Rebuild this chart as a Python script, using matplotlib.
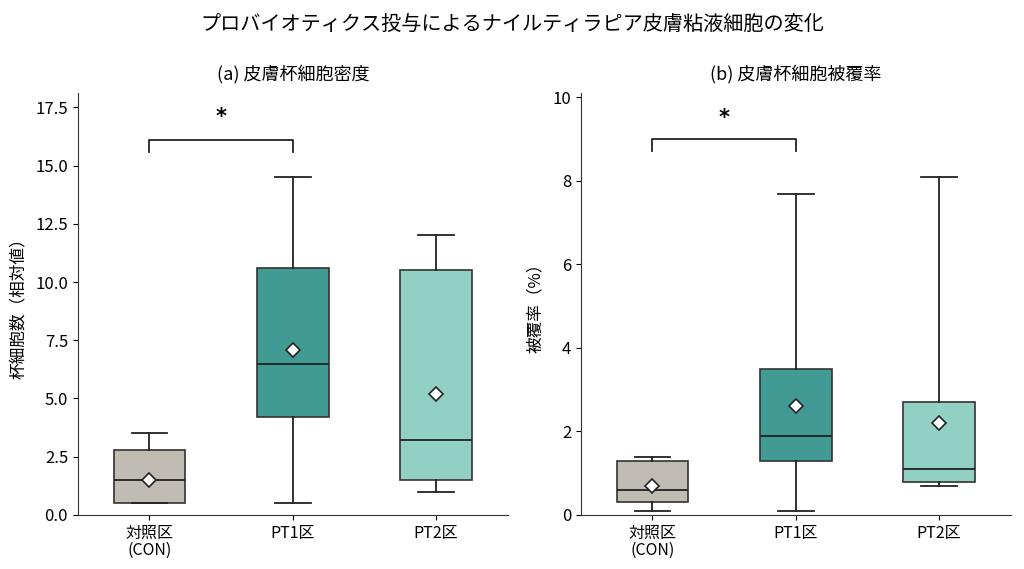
import matplotlib
matplotlib.use("Agg")
from matplotlib import pyplot as plt

plt.rcParams['font.family'] = ['Noto Sans CJK JP', 'DejaVu Sans']

groups = ["対照区\n(CON)", "PT1区", "PT2区"]
colors = ["#c0bbb3", "#419a93", "#93d0c4"]

# (a) goblet cell density: whislo, q1, med, q3, whishi, mean
density_lo = [0.5, 0.5, 1.0]
density_q1 = [0.5, 4.2, 1.5]
density_med = [1.5, 6.5, 3.2]
density_q3 = [2.8, 10.6, 10.5]
density_hi = [3.5, 14.5, 12.0]
density_mean = [1.5, 7.1, 5.2]

# (b) coverage rate
cover_lo = [0.1, 0.1, 0.7]
cover_q1 = [0.3, 1.3, 0.8]
cover_med = [0.6, 1.9, 1.1]
cover_q3 = [1.3, 3.5, 2.7]
cover_hi = [1.4, 7.7, 8.1]
cover_mean = [0.7, 2.6, 2.2]


def make_stats(lo, q1, med, q3, hi, mean):
    stats = []
    for i in range(len(lo)):
        stats.append({
            "whislo": lo[i], "q1": q1[i], "med": med[i],
            "q3": q3[i], "whishi": hi[i], "mean": mean[i], "fliers": [],
        })
    return stats


def draw_panel(ax, stats, title, ylabel, ylim, bracket_y, drop, star_y):
    bp = ax.bxp(
        stats, positions=[0, 1, 2], widths=0.5, patch_artist=True,
        showmeans=True, showfliers=False,
        boxprops=dict(edgecolor="#333333", linewidth=1.2),
        medianprops=dict(color="#222222", linewidth=1.3),
        whiskerprops=dict(color="#222222", linewidth=1.3),
        capprops=dict(color="#222222", linewidth=1.3),
        meanprops=dict(marker="D", markerfacecolor="white",
                       markeredgecolor="#222222", markersize=7, markeredgewidth=1.2),
    )
    for patch, c in zip(bp["boxes"], colors):
        patch.set_facecolor(c)

    ax.plot([0, 0, 1, 1], [bracket_y - drop, bracket_y, bracket_y, bracket_y - drop],
            color="#222222", linewidth=1.3)
    ax.text(0.5, star_y, "*", ha="center", va="center", fontsize=15,
            fontweight="bold", family="DejaVu Sans")

    ax.set_xlim(-0.5, 2.5)
    ax.set_ylim(*ylim)
    ax.set_xticks([0, 1, 2])
    ax.set_xticklabels(groups, fontsize=11.5, linespacing=1.05)
    ax.tick_params(axis="y", labelsize=12)
    ax.set_title(title, fontsize=13, pad=10)
    ax.set_ylabel(ylabel, fontsize=12, labelpad=6)
    ax.spines["top"].set_visible(False)
    ax.spines["right"].set_visible(False)
    for s in ax.spines.values():
        s.set_color("#333333")


fig, (ax1, ax2) = plt.subplots(1, 2, figsize=(10.24, 5.69), dpi=100)
fig.subplots_adjust(left=0.076, right=0.987, top=0.836, bottom=0.095, wspace=0.17)

draw_panel(ax1, make_stats(density_lo, density_q1, density_med, density_q3, density_hi, density_mean),
           "(a) 皮膚杯細胞密度", "杯細胞数（相対値）", (0, 18.1), 16.1, 0.5, 17.1)
ax1.set_yticks([0, 2.5, 5.0, 7.5, 10.0, 12.5, 15.0, 17.5])

draw_panel(ax2, make_stats(cover_lo, cover_q1, cover_med, cover_q3, cover_hi, cover_mean),
           "(b) 皮膚杯細胞被覆率", "被覆率（%）", (0, 10.1), 9.0, 0.28, 9.5)
ax2.set_yticks([0, 2, 4, 6, 8, 10])

fig.suptitle("プロバイオティクス投与によるナイルティラピア皮膚粘液細胞の変化", fontsize=14.5, y=0.975)

plt.savefig("out.png", dpi=100)
